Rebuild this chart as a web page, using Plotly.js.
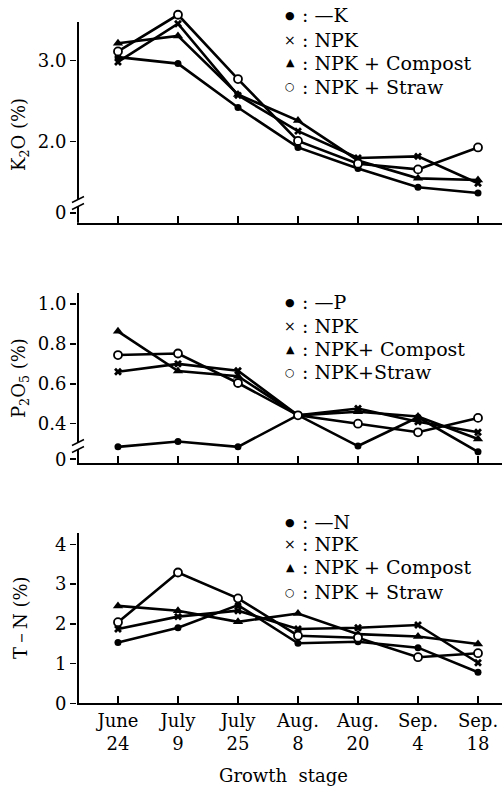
<!DOCTYPE html>
<html>
<head>
<meta charset="utf-8">
<script src="https://cdn.plot.ly/plotly-3.0.1.min.js"></script>
<style>html,body{margin:0;padding:0;background:#fff;}#chart{width:502px;height:788px;}</style>
</head>
<body>
<div id="chart"></div>
<script>
// ---- data ----
const stages = ["June<br>24","July<br>9","July<br>25","Aug.<br>8","Aug.<br>20","Sep.<br>4","Sep.<br>18"];

const k_minusK  = [3.04, 2.96, 2.42, 1.93, 1.67, 1.44, 1.37];
const k_NPK     = [2.98, 3.45, 2.57, 2.13, 1.80, 1.82, 1.49];
const k_compost = [3.21, 3.30, 2.58, 2.26, 1.77, 1.55, 1.53];
const k_straw   = [3.11, 3.56, 2.77, 2.01, 1.73, 1.66, 1.93];

const p_minusP  = [0.284, 0.311, 0.284, 0.443, 0.288, 0.432, 0.259];
const p_NPK     = [0.660, 0.700, 0.665, 0.442, 0.476, 0.410, 0.357];
const p_compost = [0.863, 0.664, 0.638, 0.442, 0.460, 0.436, 0.323];
const p_straw   = [0.744, 0.752, 0.604, 0.442, 0.400, 0.357, 0.429];

const n_minusN  = [1.53, 1.90, 2.47, 1.51, 1.55, 1.40, 0.78];
const n_NPK     = [1.87, 2.18, 2.33, 1.87, 1.90, 1.97, 1.02];
const n_compost = [2.45, 2.33, 2.05, 2.26, 1.74, 1.68, 1.49];
const n_straw   = [2.04, 3.29, 2.64, 1.70, 1.65, 1.16, 1.26];

const legendK = ["—K", "NPK", "NPK + Compost", "NPK + Straw"];
const legendP = ["—P", "NPK", "NPK+ Compost", "NPK+Straw"];
const legendN = ["—N", "NPK", "NPK + Compost", "NPK + Straw"];
const legendSymbols = ["●", "×", "▲", "○"];

// ---- helpers ----
const W = 502, H = 788;
const px = x => x / W;
const py = y => 1 - y / H;
const FONT = "DejaVu Serif, Liberation Serif, serif";

const markerStyles = [
  {symbol: "circle", size: 7, color: "#000"},
  {symbol: "x", size: 7, color: "#000"},
  {symbol: "triangle-up", size: 9, color: "#000"},
  {symbol: "circle", size: 8, color: "#fff", line: {color: "#000", width: 1.8}}
];

function mk(y, i, xa, ya) {
  return {
    x: stages, y: y, xaxis: xa, yaxis: ya,
    type: "scatter", mode: "lines+markers",
    line: {color: "#000", width: 2.6},
    marker: markerStyles[i],
    cliponaxis: false, hoverinfo: "skip"
  };
}

const traces = [
  mk(k_minusK, 0, "x", "y"), mk(k_NPK, 1, "x", "y"), mk(k_compost, 2, "x", "y"), mk(k_straw, 3, "x", "y"),
  mk(p_minusP, 0, "x2", "y2"), mk(p_NPK, 1, "x2", "y2"), mk(p_compost, 2, "x2", "y2"), mk(p_straw, 3, "x2", "y2"),
  mk(n_minusN, 0, "x3", "y3"), mk(n_NPK, 1, "x3", "y3"), mk(n_compost, 2, "x3", "y3"), mk(n_straw, 3, "x3", "y3")
];

const xBase = {
  domain: [px(77), 1], range: [-0.683, 6.4], type: "category",
  showline: true, linecolor: "#000", linewidth: 2,
  ticks: "inside", ticklen: 7, tickwidth: 1.5, tickcolor: "#000",
  showgrid: false, zeroline: false, fixedrange: true,
  tickfont: {family: FONT, size: 18, color: "#000"}
};
const yBase = {
  showline: false, showgrid: false, zeroline: false, fixedrange: true,
  ticks: "outside", ticklen: 6, tickwidth: 1.5, tickcolor: "#000",
  tickfont: {family: FONT, size: 18, color: "#000"}
};

const layout = {
  width: W, height: H,
  margin: {l: 0, r: 0, t: 0, b: 0},
  paper_bgcolor: "#fff", plot_bgcolor: "#fff",
  showlegend: false,
  xaxis: Object.assign({}, xBase, {anchor: "y", showticklabels: false}),
  xaxis2: Object.assign({}, xBase, {anchor: "y2", showticklabels: false}),
  xaxis3: Object.assign({}, xBase, {anchor: "y3", showticklabels: true}),
  yaxis: Object.assign({}, yBase, {
    anchor: "x", domain: [py(222.7), py(5)], range: [1.005, 3.68],
    tickvals: [1.124, 2, 3], ticktext: ["0", "2.0", "3.0"]
  }),
  yaxis2: Object.assign({}, yBase, {
    anchor: "x2", domain: [py(463.3), py(265)], range: [0.2015, 1.1955],
    tickvals: [0.222, 0.4, 0.6, 0.8, 1.0], ticktext: ["0", "0.4", "0.6", "0.8", "1.0"]
  }),
  yaxis3: Object.assign({}, yBase, {
    anchor: "x3", domain: [py(703.3), py(515)], range: [0, 4.737],
    tickvals: [0, 1, 2, 3, 4], ticktext: ["0", "1", "2", "3", "4"]
  }),
  shapes: [],
  annotations: []
};

// y-axis lines with break marks (paper coords from pixel positions)
function vline(y0, y1) {
  layout.shapes.push({type: "line", xref: "paper", yref: "paper",
    x0: px(78), x1: px(78), y0: py(y0), y1: py(y1), line: {color: "#000", width: 2}});
}
function brk(yc) {
  [-3.5, 3.5].forEach(d => {
    layout.shapes.push({type: "line", xref: "paper", yref: "paper",
      x0: px(72), x1: px(84), y0: py(yc + d + 3), y1: py(yc + d - 3), line: {color: "#000", width: 1.5}});
  });
}
vline(22, 199); vline(207, 222.7); brk(203);
vline(293, 442); vline(450, 463.3); brk(446);
vline(533, 703.3);

// legends as text
function legend(rows, labels) {
  rows.forEach((y, i) => {
    layout.annotations.push({xref: "paper", yref: "paper", x: px(290), y: py(y),
      xanchor: "center", yanchor: "middle", showarrow: false, text: legendSymbols[i],
      font: {family: "DejaVu Sans", size: i === 1 ? 14 : 11, color: "#000"}});
    layout.annotations.push({xref: "paper", yref: "paper", x: px(300), y: py(y),
      xanchor: "left", yanchor: "middle", showarrow: false, text: ": " + labels[i],
      font: {family: FONT, size: 19, color: "#000"}});
  });
}
legend([15, 40, 63, 87], legendK);
legend([302, 326, 349, 372], legendP);
legend([522, 544, 567, 592], legendN);

// axis titles
function ytitle(text, yc) {
  layout.annotations.push({xref: "paper", yref: "paper", x: px(20), y: py(yc),
    xanchor: "center", yanchor: "middle", showarrow: false, textangle: -90, text: text,
    font: {family: FONT, size: 18, color: "#000"}});
}
ytitle("K<sub>2</sub>O (%)", 135);
ytitle("P<sub>2</sub>O<sub>5</sub> (%)", 378);
ytitle("T－N (%)", 618);
layout.annotations.push({xref: "paper", yref: "paper", x: px(283), y: py(775),
  xanchor: "center", yanchor: "middle", showarrow: false, text: "Growth  stage",
  font: {family: FONT, size: 18, color: "#000"}});

Plotly.newPlot("chart", traces, layout, {staticPlot: true, displayModeBar: false});
</script>
</body>
</html>
